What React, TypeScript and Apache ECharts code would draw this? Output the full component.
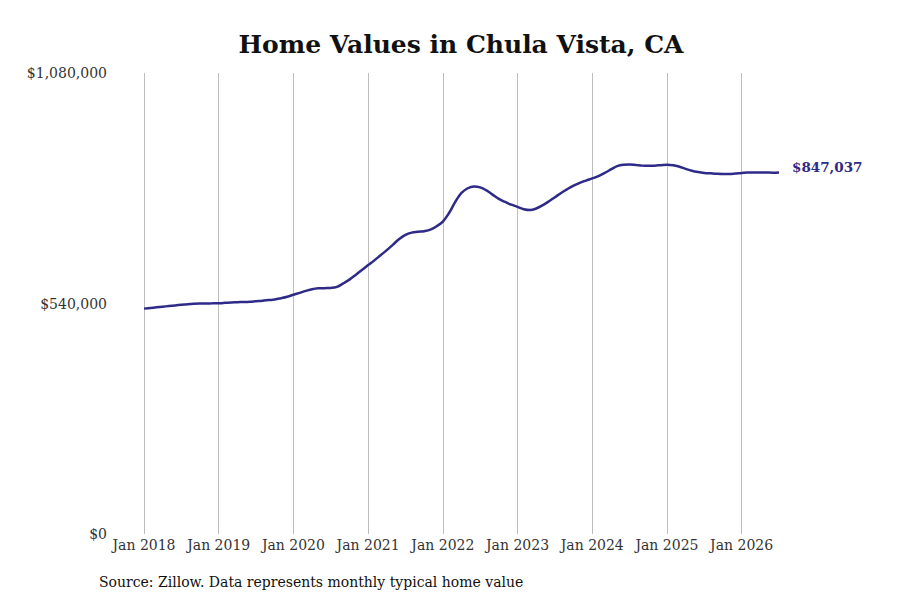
import React, { useEffect, useRef } from "react";
import * as echarts from "echarts";

const TITLE = "Home Values in Chula Vista, CA";
const SOURCE = "Source: Zillow. Data represents monthly typical home value";
const YEARS = [2018, 2019, 2020, 2021, 2022, 2023, 2024, 2025, 2026];
const MONTHS = ["Jan", "Feb", "Mar", "Apr", "May", "Jun", "Jul", "Aug", "Sep", "Oct", "Nov", "Dec"];
const Y_TICKS = [0, 540000, 1080000];

// Monthly typical home value, Jan 2018 .. Jul 2026
const V2018 = [528000, 529500, 531000, 532500, 534000, 535500, 537000, 538500, 539500, 540000, 540200, 540400];
const V2019 = [540700, 541500, 542500, 543000, 543500, 544200, 545400, 546500, 548000, 549500, 552500, 556000];
const V2020 = [560500, 565000, 569500, 573500, 575500, 576000, 576500, 579000, 587000, 596000, 607000, 618500];
const V2021 = [630000, 641000, 653000, 665000, 678000, 691000, 701000, 706000, 708000, 709500, 713000, 721000];
const V2022 = [732000, 752000, 778000, 799000, 810000, 814000, 812000, 805000, 795000, 785000, 778000, 771500];
const V2023 = [766500, 761000, 759000, 762500, 770000, 779000, 789000, 799000, 808000, 816000, 822500, 828000];
const V2024 = [833000, 838500, 846000, 854000, 862000, 865000, 865500, 864500, 863000, 862500, 863000, 864000];
const V2025 = [865000, 864000, 860500, 855500, 851000, 848000, 846000, 845000, 844000, 843500, 843500, 844500];
const V2026 = [846000, 846700, 847000, 846900, 846800, 846500, 847037];

const VALUES = [...V2018, ...V2019, ...V2020, ...V2021, ...V2022, ...V2023, ...V2024, ...V2025, ...V2026];
const CATEGORIES = VALUES.map((_, i) => `${MONTHS[i % 12]} ${YEARS[Math.floor(i / 12)]}`);

const LINE_COLOR = "#2e2a88";
const FONT = "DejaVu Serif";

const fmt = (v: number) => "$" + Math.round(v).toLocaleString("en-US");

export default function App() {
  const ref = useRef<HTMLDivElement>(null);
  useEffect(() => {
    if (!ref.current) return;
    const chart = echarts.init(ref.current, null, { renderer: "svg" });
    chart.setOption({
      animation: false,
      backgroundColor: "#ffffff",
      textStyle: { fontFamily: FONT },
      grid: { left: 144, right: 121, top: 73, bottom: 66, containLabel: false },
      graphic: [
        {
          type: "text",
          x: 461,
          y: 44,
          style: {
            text: TITLE,
            font: `bold 25px "${FONT}"`,
            fill: "#111111",
            textAlign: "center",
            textVerticalAlign: "middle",
          },
        },
        {
          type: "text",
          x: 99,
          y: 582,
          style: {
            text: SOURCE,
            font: `14px "${FONT}"`,
            fill: "#111111",
            textAlign: "left",
            textVerticalAlign: "middle",
          },
        },
      ],
      xAxis: {
        type: "category",
        data: CATEGORIES,
        boundaryGap: false,
        axisLine: { show: false },
        axisTick: { show: false },
        axisLabel: {
          interval: (i: number) => i % 12 === 0,
          formatter: (v: string) => v,
          color: "#333333",
          fontSize: 14,
          fontFamily: FONT,
          margin: 4,
        },
        splitLine: {
          show: true,
          interval: (i: number) => i % 12 === 0,
          lineStyle: { color: "#bdbdbd", width: 1 },
        },
      },
      yAxis: {
        type: "value",
        min: Y_TICKS[0],
        max: Y_TICKS[2],
        interval: Y_TICKS[1] - Y_TICKS[0],
        axisLine: { show: false },
        axisTick: { show: false },
        splitLine: { show: false },
        axisLabel: {
          formatter: (v: number) => fmt(v),
          color: "#333333",
          fontSize: 14,
          fontFamily: FONT,
          margin: 37,
        },
      },
      series: [
        {
          type: "line",
          data: VALUES,
          smooth: 0.4,
          showSymbol: false,
          symbol: "none",
          lineStyle: { color: LINE_COLOR, width: 2.5 },
          itemStyle: { color: LINE_COLOR },
          endLabel: {
            show: true,
            formatter: (p: any) => fmt(p.value),
            color: LINE_COLOR,
            fontWeight: "bold",
            fontSize: 13.5,
            fontFamily: FONT,
            distance: 13,
            offset: [0, -5],
          },
        },
      ],
    });
    return () => chart.dispose();
  }, []);
  return (
    <div
      ref={ref}
      style={{ position: "absolute", left: 0, top: 0, width: 900, height: 600 }}
    />
  );
}
